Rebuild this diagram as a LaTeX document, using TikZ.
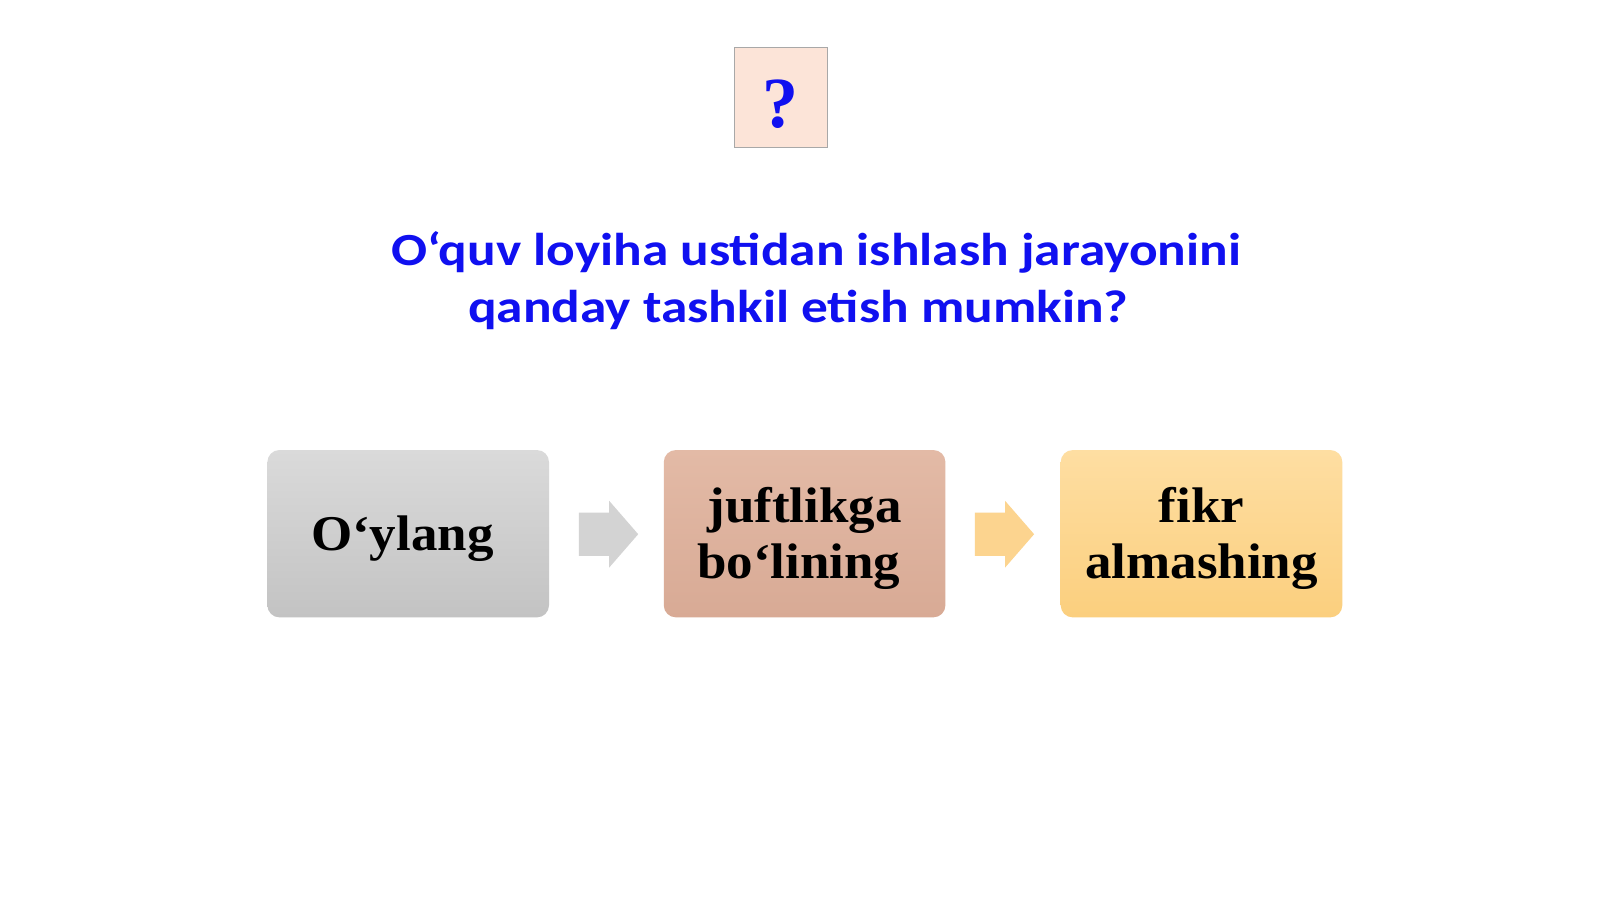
\documentclass[tikz,border=0pt]{standalone}
\usepackage{fontspec}
\setmainfont{Liberation Serif}
\newfontfamily\titlefont{Carlito}
\usetikzlibrary{shapes.arrows}
\definecolor{qfill}{HTML}{FCE4D8}
\definecolor{qborder}{HTML}{A8A8A8}
\definecolor{qblue}{HTML}{1010F0}
\definecolor{grayTop}{HTML}{DADADA}
\definecolor{grayBot}{HTML}{C3C3C3}
\definecolor{roseTop}{HTML}{E3BAA6}
\definecolor{roseBot}{HTML}{D8AA95}
\definecolor{goldTop}{HTML}{FEDEA2}
\definecolor{goldBot}{HTML}{FBCF7E}
\definecolor{arrGray}{HTML}{D3D3D3}
\definecolor{arrGold}{HTML}{FCD48F}
\newcommand{\boxtext}[1]{\raisebox{-12pt}[0pt][0pt]{\scalebox{1.06}[1]{\begin{tabular}{@{}c@{}}#1\end{tabular}}}}
\tikzset{
  stepbox/.style={rounded corners=12pt, minimum width=281.6pt, minimum height=167.3pt,
    inner sep=0pt, font=\fontsize{50}{56}\selectfont\bfseries, text=black},
  flowarrow/.style={shape=single arrow, single arrow head extend=11.75pt,
    minimum height=59.2pt, inner xsep=0pt, inner ysep=21.4pt, text height=0pt, text depth=0pt,
    text width=0pt, single arrow tip angle=98}
}
\begin{document}
\begin{tikzpicture}[x=1pt,y=-1pt]
\useasboundingbox (0,0) rectangle (1600,899);
\fill[white] (0,0) rectangle (1600,899);
% question box
\node[draw=qborder, fill=qfill, minimum width=93pt, minimum height=100pt, inner sep=0pt,
  font=\fontsize{72}{72}\selectfont\bfseries, text=qblue] (q) at (780.5,97) {\raisebox{-30pt}[0pt][0pt]{?}};
% title
\node[inner sep=0pt, text=qblue, font=\titlefont\fontsize{46}{57.5}\selectfont\bfseries] (title) at (816.3,282.5)
  {\scalebox{1.16}[1]{\begin{tabular}{@{}c@{}}O‘quv loyiha ustidan ishlash jarayonini\\qanday tashkil etish mumkin?\hspace*{31pt}\end{tabular}}};
% boxes
\node[stepbox, top color=grayTop, bottom color=grayBot] (b1) at (408.2,533.7) {\boxtext{O‘ylang\hspace*{11pt}}};
\node[stepbox, top color=roseTop, bottom color=roseBot] (b2) at (804.6,533.7) {\boxtext{juftlikga\\bo‘lining\hspace*{11pt}}};
\node[stepbox, top color=goldTop, bottom color=goldBot] (b3) at (1201.5,533.7) {\boxtext{fikr\\almashing}};
% arrows
\node[flowarrow, fill=arrGray] (a1) at (599.2,534.2) {};
\node[flowarrow, fill=arrGold] (a2) at (995.1,534.2) {};
\end{tikzpicture}
\end{document}
